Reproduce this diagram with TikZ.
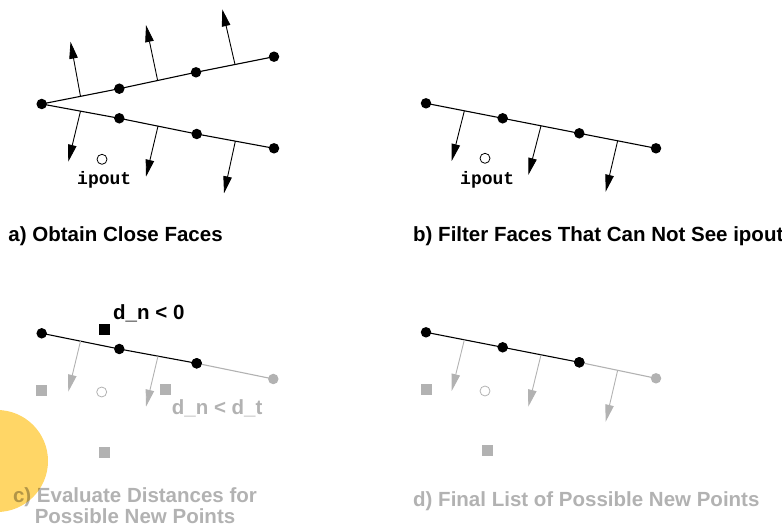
\documentclass[tikz,border=0pt]{standalone}
\usepackage{fontspec}
\setmainfont{Liberation Sans}
\newfontfamily\monof{Liberation Mono}
\usetikzlibrary{arrows.meta,calc}
\definecolor{lgrey}{RGB}{178,178,178}
\definecolor{sun}{RGB}{255,214,102}
\tikzset{
  pdot/.style={circle,fill=black,inner sep=0pt,minimum size=10.5pt},
  gdot/.style={pdot,fill=lgrey},
  seg/.style={line width=1.1pt},
  gseg/.style={seg,lgrey},
  nrm/.style={line width=0.9pt,-{Triangle[length=17pt,width=8.5pt]}},
  gnrm/.style={nrm,lgrey},
  probe/.style={circle,draw=black,line width=0.8pt,inner sep=0pt,minimum size=10pt},
  gprobe/.style={probe,draw=lgrey},
  sq/.style={rectangle,fill=black,inner sep=0pt,minimum size=11pt},
  gsq/.style={sq,fill=lgrey},
  capt/.style={font=\bfseries\fontsize{20.5}{18.5}\selectfont,anchor=base west,inner sep=0pt},
  lbl/.style={font=\monof\bfseries\fontsize{18}{18}\selectfont,anchor=base west,inner sep=0pt}
}
\begin{document}
\begin{tikzpicture}[x=1pt,y=-1pt]
\useasboundingbox (0,0) rectangle (782,526);
% ---------- panel a ----------
\node[pdot] (a0) at (41.7,104) {};
\node[pdot] (u1) at (119.3,88.7) {};
\node[pdot] (u2) at (196,72.3) {};
\node[pdot] (u3) at (274,56.7) {};
\node[pdot] (l1) at (119.3,118.3) {};
\node[pdot] (l2) at (196.7,134) {};
\node[pdot] (l3) at (274,148.3) {};
\draw[seg] (a0.center) -- (u1.center) -- (u2.center) -- (u3.center);
\draw[seg] (a0.center) -- (l1.center) -- (l2.center) -- (l3.center);
\coordinate (ua1) at ($(a0)!0.5!(u1)$);
\coordinate (ua2) at ($(u1)!0.5!(u2)$);
\coordinate (ua3) at ($(u2)!0.5!(u3)$);
\coordinate (ut1) at (70.5,41.7);
\coordinate (ut2) at (146,25);
\coordinate (ut3) at (222.3,9.3);
\draw[nrm] (ua1) -- (ut1);
\draw[nrm] (ua2) -- (ut2);
\draw[nrm] (ua3) -- (ut3);
\coordinate (la1) at ($(a0)!0.5!(l1)$);
\coordinate (la2) at ($(l1)!0.5!(l2)$);
\coordinate (la3) at ($(l2)!0.5!(l3)$);
\coordinate (lt1) at (68.3,161.7);
\coordinate (lt2) at (146,176.7);
\coordinate (lt3) at (224,193.3);
\draw[nrm] (la1) -- (lt1);
\draw[nrm] (la2) -- (lt2);
\draw[nrm] (la3) -- (lt3);
\node[probe] (pa) at (102,159.3) {};
\node[lbl] (ipa) at (77,184.5) {ipout};
\node[capt] (capa) at (8.3,241.5) {a) Obtain Close Faces};
% ---------- panel b ----------
\node[pdot] (b0) at (426,103.3) {};
\node[pdot] (b1) at (502.7,118.3) {};
\node[pdot] (b2) at (579.3,133.3) {};
\node[pdot] (b3) at (656,148.3) {};
\draw[seg] (b0.center) -- (b1.center) -- (b2.center) -- (b3.center);
\coordinate (ba1) at ($(b0)!0.5!(b1)$);
\coordinate (ba2) at ($(b1)!0.5!(b2)$);
\coordinate (ba3) at ($(b2)!0.5!(b3)$);
\coordinate (bt1) at (451.7,161);
\coordinate (bt2) at (528.3,175);
\coordinate (bt3) at (605.7,191.7);
\draw[nrm] (ba1) -- (bt1);
\draw[nrm] (ba2) -- (bt2);
\draw[nrm] (ba3) -- (bt3);
\node[probe] (pb) at (485,158.3) {};
\node[lbl] (ipb) at (460,184.5) {ipout};
\node[capt] (capb) at (413,241.5) {b) Filter Faces That Can Not See ipout};
% ---------- panel c ----------
\node[pdot] (c0) at (41.7,333.3) {};
\node[pdot] (c1) at (119.3,349) {};
\node[pdot] (c2) at (196.7,363.3) {};
\node[gdot] (c3) at (273.3,379) {};
\draw[gseg] (c2.center) -- (c3.center);
\draw[seg] (c0.center) -- (c1.center) -- (c2.center);
\fill (c2) circle[radius=5.25pt];
\coordinate (ca1) at ($(c0)!0.5!(c1)$);
\coordinate (ca2) at ($(c1)!0.5!(c2)$);
\coordinate (ct1) at (68.3,391.7);
\coordinate (ct2) at (146,406.7);
\draw[gnrm] (ca1) -- (ct1);
\draw[gnrm] (ca2) -- (ct2);
\node[gprobe] (pc) at (101.7,392) {};
\node[sq] (sqc0) at (104.3,330) {};
\node[gsq] (sqc1) at (41.7,390.7) {};
\node[gsq] (sqc2) at (165.7,390) {};
\node[gsq] (sqc3) at (104.3,452.3) {};
\node[capt] (dn0) at (113,320) {d\_n < 0};
\node[capt,text=lgrey] (dnt) at (171.7,414.3) {d\_n < d\_t};
\node[capt,text=lgrey,anchor=base,align=center] (capc) at (135,523) {c) Evaluate Distances for\\Possible New Points};
% ---------- panel d ----------
\node[pdot] (d0) at (426,332.3) {};
\node[pdot] (d1) at (502.7,347.3) {};
\node[pdot] (d2) at (579.3,362.3) {};
\node[gdot] (d3) at (656,378.3) {};
\draw[gseg] (d2.center) -- (d3.center);
\draw[seg] (d0.center) -- (d1.center) -- (d2.center);
\fill (d2) circle[radius=5.25pt];
\coordinate (da1) at ($(d0)!0.5!(d1)$);
\coordinate (da2) at ($(d1)!0.5!(d2)$);
\coordinate (da3) at ($(d2)!0.5!(d3)$);
\coordinate (dt1) at (451.7,391);
\coordinate (dt2) at (528.3,406.7);
\coordinate (dt3) at (605.7,421.7);
\draw[gnrm] (da1) -- (dt1);
\draw[gnrm] (da2) -- (dt2);
\draw[gnrm] (da3) -- (dt3);
\node[gprobe] (pd) at (485,391) {};
\node[gsq] (sqd1) at (426,389.3) {};
\node[gsq] (sqd2) at (487.3,451) {};
\node[capt,text=lgrey] (capd) at (413,506.5) {d) Final List of Possible New Points};
% ---------- highlight ----------
\begin{scope}[blend mode=multiply]
\fill[sun] (-3,461) circle[radius=51];
\end{scope}
\end{tikzpicture}
\end{document}
